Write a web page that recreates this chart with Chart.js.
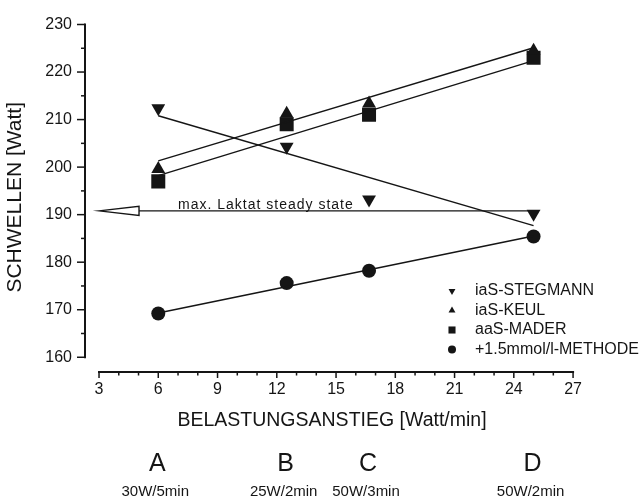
<!DOCTYPE html>
<html lang="de">
<head>
    <meta charset="UTF-8">
    <title>Schwellen vs. Belastungsanstieg</title>
    <script src="https://cdn.jsdelivr.net/npm/chart.js@4.4.0/dist/chart.umd.min.js"></script>
    <style>
        html, body { margin: 0; padding: 0; background: #fff; }
        #wrap { width: 643px; height: 502px; }
    </style>
</head>
<body>
    <div id="wrap"><canvas id="chart" width="643" height="502"></canvas></div>

    <script>
        // Belastungsanstieg [Watt/min] der vier Protokolle
        const steps = [6, 12.5, 16.67, 25];
        const protocols = ['A', 'B', 'C', 'D'];
        const protocolText = ['30W/5min', '25W/2min', '50W/3min', '50W/2min'];

        // Schwellen [Watt]
        const stegmann = [212.4, 204.3, 193.2, 190.2];
        const keul = [199.6, 211.2, 213.4, 224.5];
        const mader = [197, 209, 211, 223];
        const methode = [169.2, 175.6, 178.2, 185.4];

        // Regressionsgeraden (Endpunkte)
        const fitX = [6, 25];
        const fitStegmann = [210.8, 187.7];
        const fitKeul = [201.3, 225.1];
        const fitMader = [198.2, 222.4];
        const fitMethode = [169.3, 185.5];

        // max. Laktat steady state (Pfeil von x=25 nach x=3)
        const mlss = 190.8;
        const mlssX = [25, 3];

        // Achsen
        const xTicks = [3, 6, 9, 12, 15, 18, 21, 24, 27];
        const yTicks = [160, 170, 180, 190, 200, 210, 220, 230];

        const FONT = "'Liberation Sans', Arial, sans-serif";
        const ink = '#151515';

        const asPoints = (xs, ys) => xs.map((x, i) => ({ x: x, y: ys[i] }));

        function fitLine(ys) {
            return {
                type: 'line',
                data: asPoints(fitX, ys),
                borderColor: ink,
                borderWidth: 1.4,
                pointRadius: 0,
                fill: false
            };
        }

        function marks(label, ys, style, radius, rotation, legendRadius) {
            return {
                label: label,
                data: asPoints(steps, ys),
                showLine: false,
                pointStyle: style,
                pointRadius: radius,
                pointRotation: rotation,
                pointBackgroundColor: ink,
                pointBorderColor: ink,
                pointBorderWidth: 0,
                legendRadius: legendRadius
            };
        }

        function drawMark(ctx, style, rotation, r, cx, cy) {
            ctx.beginPath();
            if (style === 'circle') {
                ctx.arc(cx, cy, r, 0, Math.PI * 2);
            } else if (style === 'rect') {
                const s = r * Math.SQRT1_2;
                ctx.rect(cx - s, cy - s, 2 * s, 2 * s);
            } else {
                let a = rotation * Math.PI / 180;
                for (let k = 0; k < 3; k++) {
                    ctx.lineTo(cx + Math.sin(a) * r, cy - Math.cos(a) * r);
                    a += 2 * Math.PI / 3;
                }
                ctx.closePath();
            }
            ctx.fill();
        }

        // Achsenlinien, Teilstriche, Pfeil, Legende und Protokollbeschriftung
        const framePlugin = {
            id: 'frame',
            beforeDatasetsDraw(chart) {
                const { ctx, scales: { x, y } } = chart;
                const left = chart.chartArea.left;
                const bottom = chart.chartArea.bottom;
                ctx.save();
                ctx.strokeStyle = ink;

                // y-Achse
                ctx.lineWidth = 2;
                ctx.beginPath();
                ctx.moveTo(left, y.getPixelForValue(yTicks[yTicks.length - 1]) - 1);
                ctx.lineTo(left, y.getPixelForValue(yTicks[0]) + 1);
                ctx.stroke();
                ctx.lineWidth = 1.5;
                yTicks.forEach((v, i) => {
                    const py = y.getPixelForValue(v);
                    ctx.beginPath(); ctx.moveTo(left - 8, py); ctx.lineTo(left, py); ctx.stroke();
                    if (i < yTicks.length - 1) {
                        const pm = y.getPixelForValue((v + yTicks[i + 1]) / 2);
                        ctx.beginPath(); ctx.moveTo(left - 4, pm); ctx.lineTo(left, pm); ctx.stroke();
                    }
                });

                // x-Achse
                ctx.lineWidth = 2;
                ctx.beginPath();
                ctx.moveTo(x.getPixelForValue(xTicks[0]) - 1, bottom);
                ctx.lineTo(x.getPixelForValue(xTicks[xTicks.length - 1]) + 1, bottom);
                ctx.stroke();
                ctx.lineWidth = 1.5;
                xTicks.forEach((v, i) => {
                    const px = x.getPixelForValue(v);
                    ctx.beginPath(); ctx.moveTo(px, bottom); ctx.lineTo(px, bottom + 6); ctx.stroke();
                    if (i < xTicks.length - 1) {
                        const step = (xTicks[i + 1] - v) / 3;
                        [1, 2].forEach(k => {
                            const pm = x.getPixelForValue(v + k * step);
                            ctx.beginPath(); ctx.moveTo(pm, bottom); ctx.lineTo(pm, bottom + 3.5); ctx.stroke();
                        });
                    }
                });

                // Pfeil: max. Laktat steady state
                const ya = y.getPixelForValue(mlss);
                const xEnd = x.getPixelForValue(mlssX[0]);
                const xTip = x.getPixelForValue(mlssX[1]);
                const head = 40;
                ctx.lineWidth = 1.4;
                ctx.beginPath();
                ctx.moveTo(xEnd, ya);
                ctx.lineTo(xTip + head, ya);
                ctx.stroke();
                ctx.beginPath();
                ctx.moveTo(xTip, ya);
                ctx.lineTo(xTip + head, ya - 4.5);
                ctx.lineTo(xTip + head, ya + 4.5);
                ctx.closePath();
                ctx.stroke();

                ctx.fillStyle = ink;
                ctx.font = '14px ' + FONT;
                ctx.letterSpacing = '1px';
                ctx.textAlign = 'left';
                ctx.textBaseline = 'alphabetic';
                ctx.fillText('max. Laktat steady state', x.getPixelForValue(7), ya - 2);
                ctx.restore();
            },
            afterDraw(chart) {
                const { ctx, scales: { x } } = chart;
                ctx.save();
                ctx.fillStyle = ink;

                // Legende
                ctx.font = '16px ' + FONT;
                ctx.textAlign = 'left';
                ctx.textBaseline = 'middle';
                chart.data.datasets.filter(d => d.label).forEach((d, i) => {
                    const ly = 291 + i * 19.5;
                    drawMark(ctx, d.pointStyle, d.pointRotation, d.legendRadius, 452, ly);
                    ctx.fillText(d.label, 475, ly);
                });

                // Protokolle A-D
                ctx.textAlign = 'center';
                steps.forEach((s, i) => {
                    const px = x.getPixelForValue(s);
                    ctx.font = '25px ' + FONT;
                    ctx.fillText(protocols[i], px - 1, 464);
                    ctx.font = '15px ' + FONT;
                    ctx.fillText(protocolText[i], px - 3, 492);
                });
                ctx.restore();
            }
        };

        new Chart(document.getElementById('chart'), {
            type: 'scatter',
            data: {
                datasets: [
                    fitLine(fitStegmann),
                    fitLine(fitKeul),
                    fitLine(fitMader),
                    fitLine(fitMethode),
                    marks('iaS-STEGMANN', stegmann, 'triangle', 8, 180, 4),
                    marks('iaS-KEUL', keul, 'triangle', 8, 0, 4),
                    marks('aaS-MADER', mader, 'rect', 9.9, 0, 5),
                    marks('+1.5mmol/l-METHODE', methode, 'circle', 7, 0, 4)
                ]
            },
            options: {
                responsive: false,
                animation: false,
                devicePixelRatio: 1,
                events: [],
                layout: { padding: { left: 0, right: 64, top: 14, bottom: 70 } },
                plugins: {
                    legend: { display: false },
                    tooltip: { enabled: false }
                },
                scales: {
                    x: {
                        type: 'linear',
                        min: 2.29,
                        max: 27.3,
                        grid: { display: false, drawTicks: false },
                        border: { display: false },
                        afterBuildTicks: s => { s.ticks = xTicks.map(v => ({ value: v })); },
                        afterFit: s => { s.height = 60; },
                        ticks: {
                            color: ink,
                            font: { family: FONT, size: 16 },
                            padding: 8,
                            maxRotation: 0,
                            autoSkip: false
                        },
                        title: {
                            display: true,
                            text: 'BELASTUNGSANSTIEG [Watt/min]',
                            color: ink,
                            font: { family: FONT, size: 19.5 },
                            padding: 0
                        }
                    },
                    y: {
                        type: 'linear',
                        min: 156.9,
                        max: 230.4,
                        grid: { display: false, drawTicks: false },
                        border: { display: false },
                        afterBuildTicks: s => { s.ticks = yTicks.map(v => ({ value: v })); },
                        afterFit: s => { s.width = 85; },
                        ticks: {
                            color: ink,
                            font: { family: FONT, size: 16 },
                            padding: 13
                        },
                        title: {
                            display: true,
                            text: 'SCHWELLEN [Watt]',
                            color: ink,
                            font: { family: FONT, size: 21 },
                            padding: { top: 3, bottom: 0 }
                        }
                    }
                }
            },
            plugins: [framePlugin]
        });
    </script>
</body>
</html>
